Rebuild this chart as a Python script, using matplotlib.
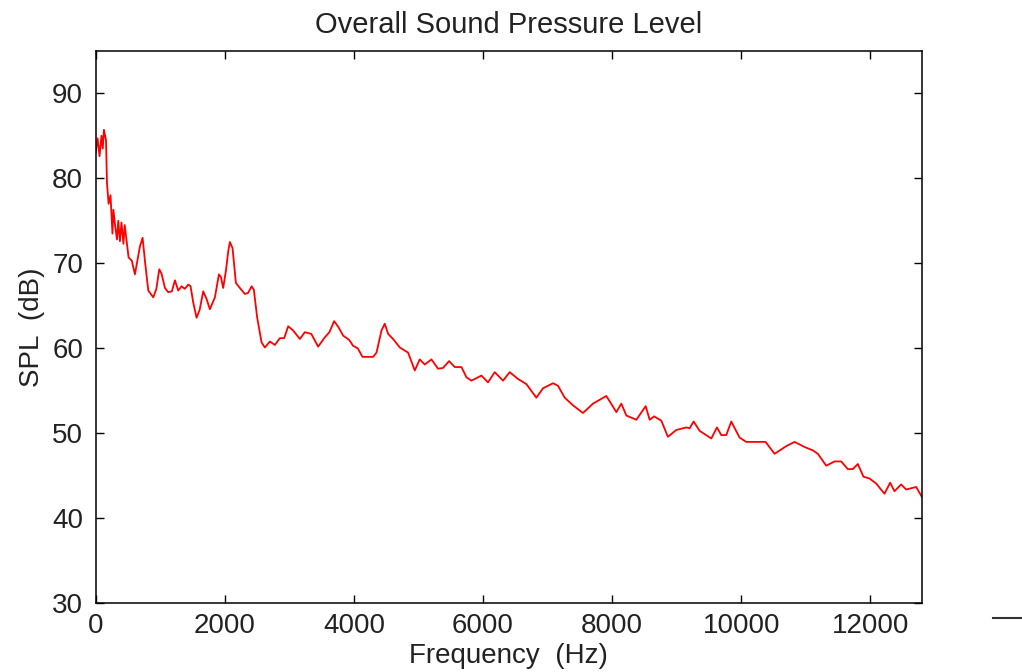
import matplotlib
matplotlib.use("Agg")
import matplotlib.pyplot as plt
from matplotlib.lines import Line2D

# values
freq_hz = [
    0, 30, 60, 90, 110, 128, 160, 175, 200, 230, 260, 275, 300, 330, 350, 376,
    400, 430, 450, 480, 510, 560, 608, 650, 686, 727, 763, 815, 892, 940, 985,
    1020, 1073, 1124, 1180, 1228, 1279, 1331, 1380, 1434, 1470, 1511, 1563,
    1610, 1666, 1718, 1769, 1847, 1909, 1940, 1975, 2017, 2053, 2079, 2120,
    2172, 2234, 2311, 2360, 2415, 2450, 2502, 2570, 2621, 2698, 2776, 2853,
    2920, 2982, 3059, 3163, 3240, 3340, 3446, 3550, 3620, 3694, 3760, 3833,
    3926, 3988, 4060, 4133, 4200, 4298, 4350, 4427, 4478, 4530, 4607, 4711,
    4839, 4943, 5020, 5097, 5201, 5304, 5381, 5474, 5562, 5666, 5743, 5820,
    5975, 6077, 6181, 6310, 6413, 6542, 6671, 6826, 6929, 7084, 7161, 7265,
    7393, 7548, 7703, 7910, 8065, 8142, 8220, 8375, 8519, 8581, 8650, 8761,
    8864, 8993, 9148, 9200, 9262, 9355, 9536, 9623, 9690, 9768, 9845, 9974,
    10077, 10206, 10376, 10516, 10697, 10825, 10980, 11109, 11186, 11316,
    11444, 11548, 11650, 11728, 11805, 11893, 11986, 12090, 12218, 12306,
    12373, 12477, 12554, 12709, 12800,
]
spl_db = [
    83.0, 84.7, 82.6, 85.0, 83.5, 85.7, 84.5, 79.5, 77.0, 78.0, 73.5, 76.3,
    74.5, 72.8, 75.0, 72.6, 74.8, 72.3, 74.5, 72.6, 70.7, 70.3, 68.7, 70.5,
    72.0, 73.0, 70.3, 66.8, 66.0, 67.0, 69.3, 68.8, 67.1, 66.6, 66.7, 68.0,
    66.8, 67.3, 67.0, 67.5, 67.3, 65.4, 63.6, 64.5, 66.7, 65.8, 64.6, 66.0,
    68.7, 68.4, 67.1, 69.1, 71.4, 72.5, 71.8, 67.7, 67.1, 66.4, 66.5, 67.3,
    66.9, 63.6, 60.7, 60.1, 60.8, 60.4, 61.2, 61.2, 62.6, 62.1, 61.1, 61.9,
    61.7, 60.2, 61.3, 61.9, 63.2, 62.5, 61.5, 61.0, 60.3, 60.0, 59.0, 59.0,
    59.0, 59.5, 62.1, 62.9, 61.7, 61.1, 60.1, 59.5, 57.4, 58.7, 58.1, 58.7,
    57.6, 57.7, 58.5, 57.8, 57.8, 56.6, 56.2, 56.8, 56.0, 57.2, 56.2, 57.2,
    56.4, 55.8, 54.2, 55.3, 55.9, 55.6, 54.2, 53.3, 52.4, 53.5, 54.4, 52.5,
    53.5, 52.1, 51.6, 53.2, 51.6, 52.0, 51.5, 49.6, 50.4, 50.7, 50.6, 51.4,
    50.3, 49.4, 50.7, 49.8, 49.8, 51.4, 49.5, 49.0, 49.0, 49.0, 47.6, 48.5,
    49.0, 48.4, 48.0, 47.6, 46.2, 46.7, 46.7, 45.8, 45.8, 46.4, 44.9, 44.7,
    44.1, 42.9, 44.2, 43.2, 44.0, 43.4, 43.7, 42.5,
]
x_ticks = [0, 2000, 4000, 6000, 8000, 10000, 12000]
y_ticks = [30, 40, 50, 60, 70, 80, 90]

plt.rcParams['font.family'] = ['Liberation Sans', 'DejaVu Sans']

fig = plt.figure(figsize=(10.22, 6.72), dpi=100)
ax = fig.add_axes([0.0936, 0.102, 0.8086, 0.8225])

ax.plot(freq_hz, spl_db, color='red', lw=1.3)

ax.set_xlim(0, 12800)
ax.set_ylim(30, 95)
ax.set_xticks(x_ticks)
ax.set_yticks(y_ticks)
ax.tick_params(direction='in', length=6, width=1, labelsize=20,
               top=True, right=True, colors='black', labelcolor='#222222')
ax.tick_params(axis='x', pad=7)
ax.tick_params(axis='y', pad=9)
for sp in ax.spines.values():
    sp.set_linewidth(1.1)

ax.set_title('Overall Sound Pressure Level', fontsize=21, pad=13, color='#222222')
ax.set_xlabel('Frequency  (Hz)', fontsize=20, labelpad=3, color='#222222')
ax.set_ylabel('SPL  (dB)', fontsize=20, labelpad=5, color='#222222')

# small dash left over at the lower right of the original picture
fig.add_artist(Line2D([993 / 1022, 1.0], [1 - 618 / 672] * 2,
                      transform=fig.transFigure, color='#333333', lw=1.5))

fig.savefig('out.png', dpi=100)
